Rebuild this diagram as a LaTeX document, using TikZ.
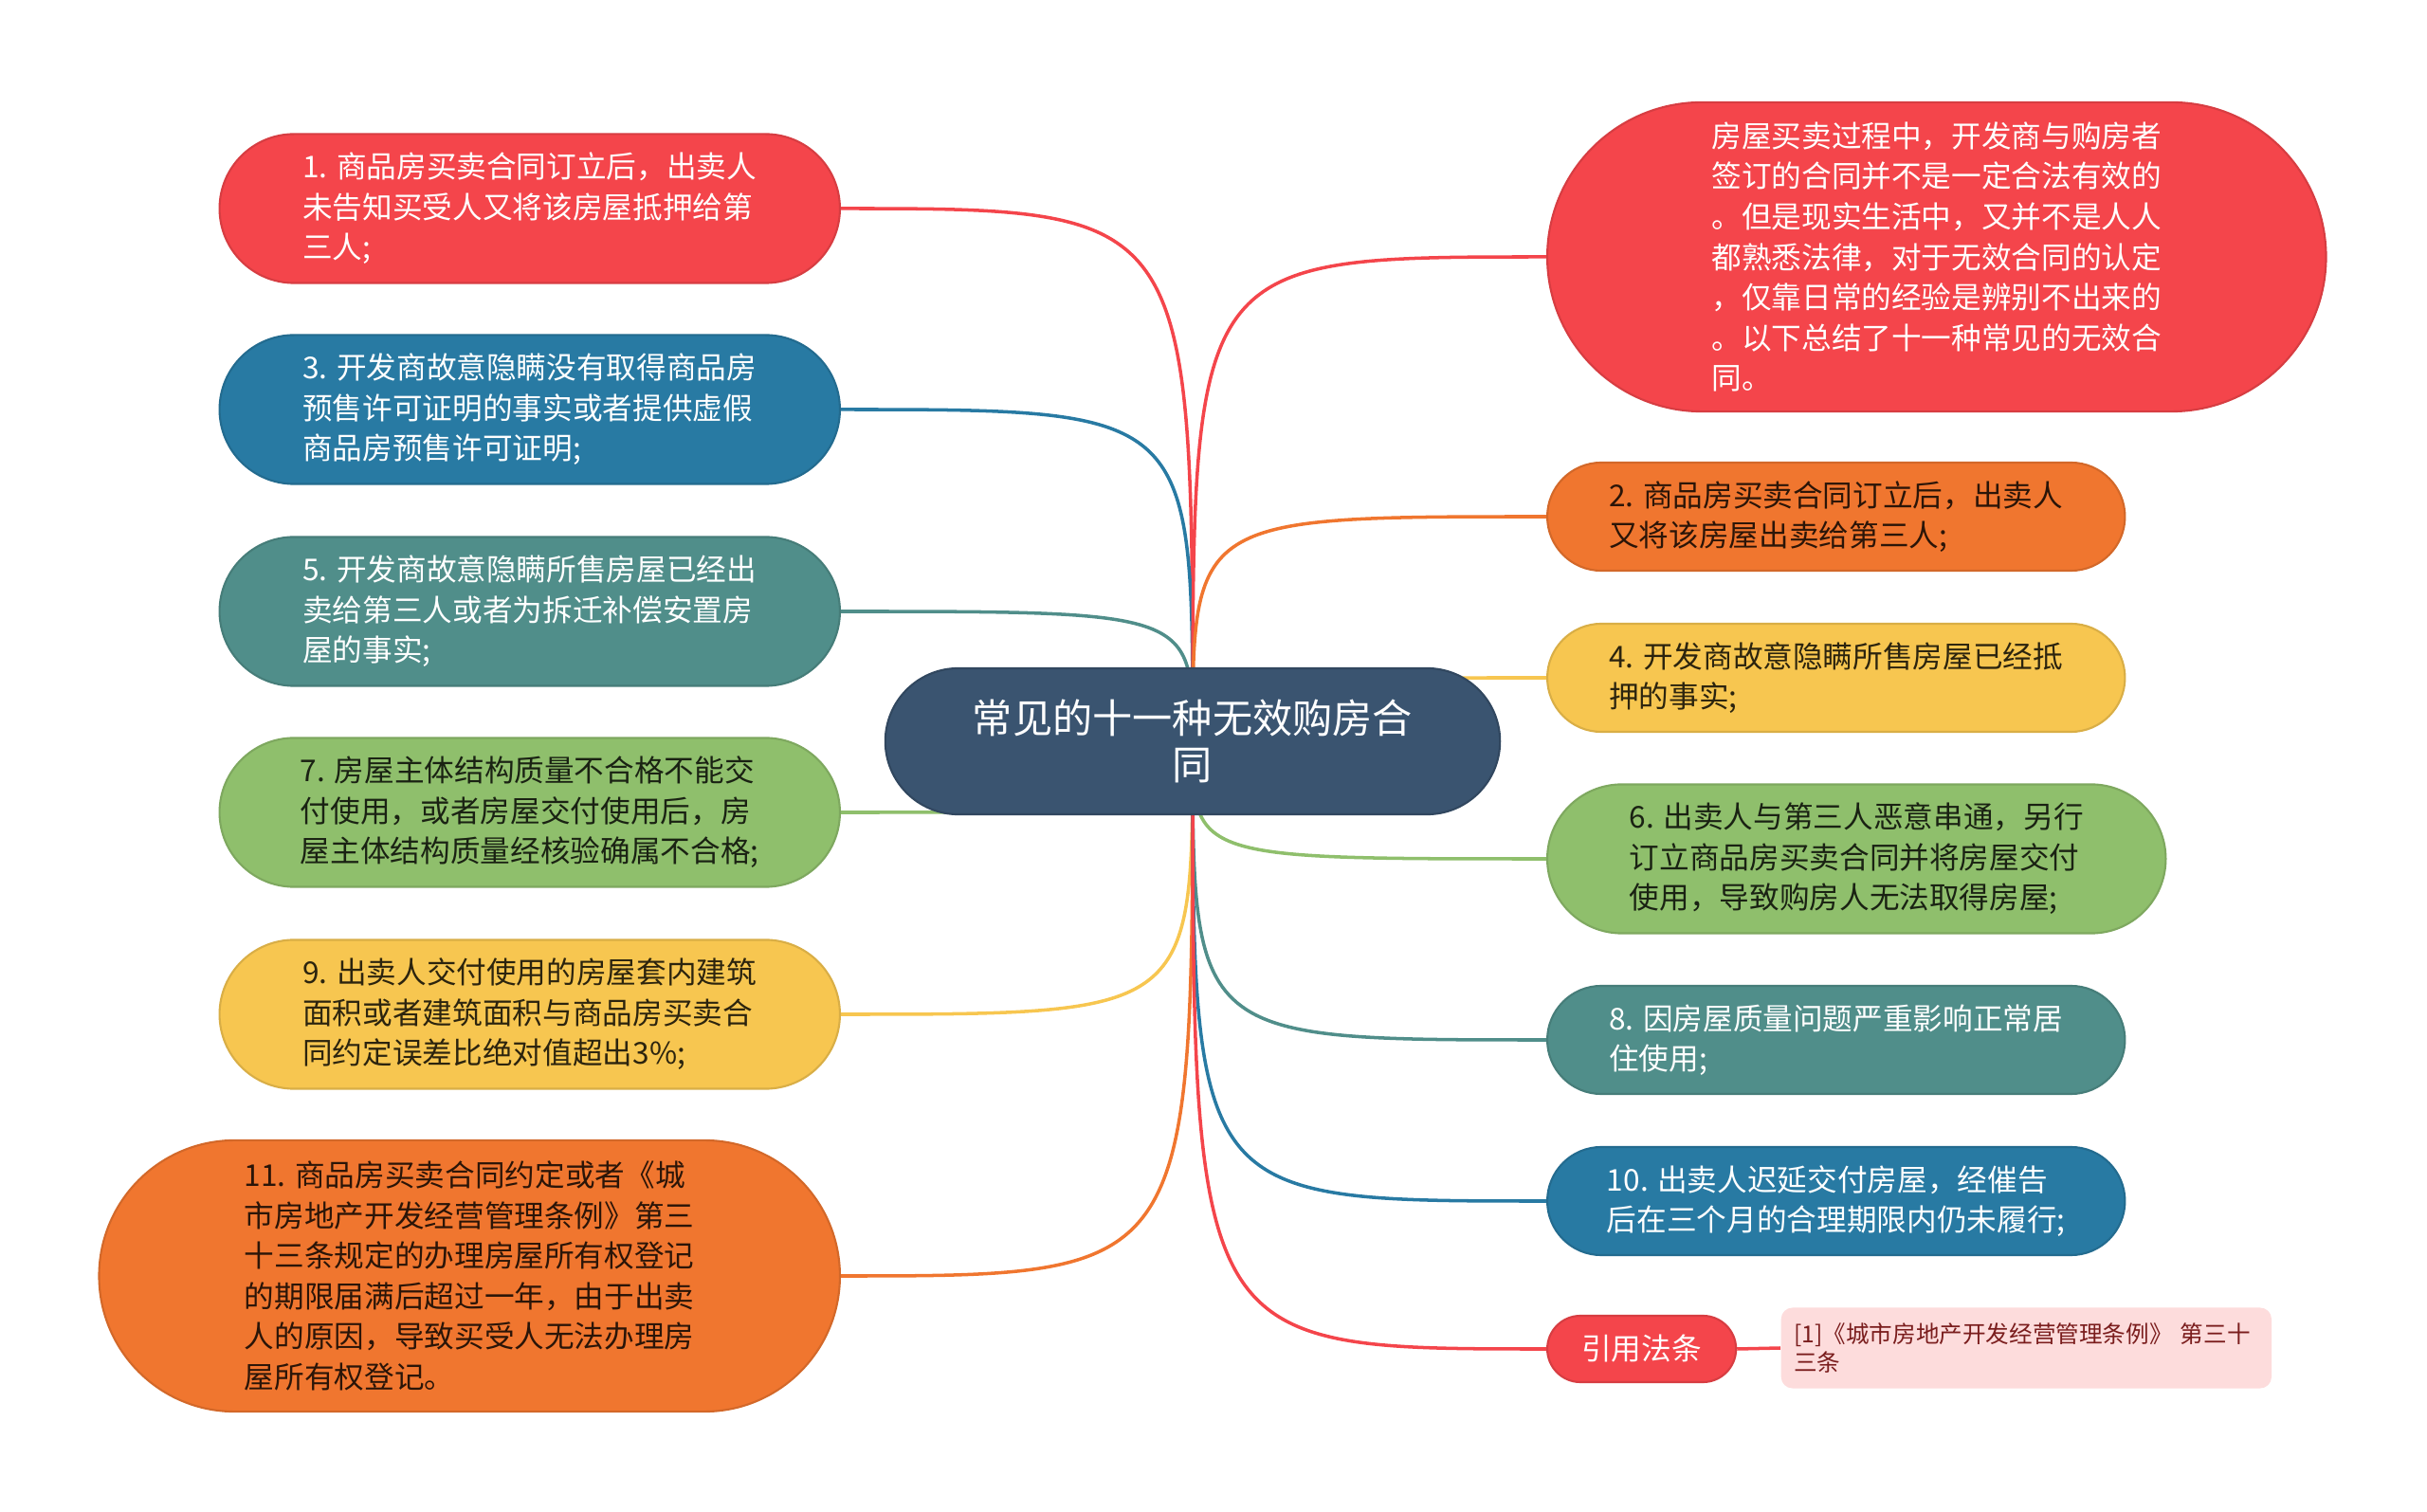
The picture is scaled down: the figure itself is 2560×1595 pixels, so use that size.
\documentclass[tikz,border=0pt]{standalone}
\usepackage{fontspec}
\setmainfont{Noto Sans CJK SC}
\usetikzlibrary{positioning,backgrounds,shapes.misc}
\definecolor{hubblue}{HTML}{3A5470}
\definecolor{mred}{HTML}{F4454B}
\definecolor{mblue}{HTML}{287AA3}
\definecolor{mteal}{HTML}{508E8A}
\definecolor{mgreen}{HTML}{8FBF6C}
\definecolor{myellow}{HTML}{F7C650}
\definecolor{morange}{HTML}{F0762F}
\definecolor{citebg}{HTML}{FDDCDC}
\definecolor{citeink}{HTML}{7A1D1D}

\begin{document}
\begin{tikzpicture}[x=0.01cm, y=-0.01cm,
    hub/.style={rounded rectangle, fill=hubblue, draw=hubblue!85!black, line width=0.6pt,
      inner sep=0pt, minimum width=6.48cm, minimum height=1.54cm, align=center,
      text=white, font=\fontsize{12}{14}\selectfont},
    leaf/.style={rounded rectangle, fill=#1, draw=#1!88!black, line width=0.6pt,
      inner sep=0pt, align=left, text=white, font=\fontsize{9}{12.1}\selectfont},
    darkleaf/.style={leaf=#1, text=#1!18!black},
    small/.style={minimum width=6.09cm, minimum height=1.14cm},
    mid/.style={minimum width=6.54cm, minimum height=1.57cm},
    citebox/.style={rectangle, rounded corners=1.2mm, fill=citebg, draw=none, anchor=west,
      minimum width=5.17cm, minimum height=0.85cm, inner xsep=1.3mm, text width=4.9cm,
      align=left, text=citeink, font=\fontsize{7}{8.8}\selectfont},
    link/.style={draw=#1, line width=1pt},
  ]
  \path[use as bounding box] (0,0) rectangle (2560,1595);

  % ------------------------------------------------------------------ centre
  \node[hub] (hub) at (1258,782) {常见的十一种无效购房合\\同};

  % --------------------------------------------------------------- left side
  \node[leaf=mred, mid, anchor=east] (n1) at (887,220)
    {1. 商品房买卖合同订立后，出卖人\\未告知买受人又将该房屋抵押给第\\三人;};
  \node[leaf=mblue, mid, anchor=east] (n3) at (887,432)
    {3. 开发商故意隐瞒没有取得商品房\\预售许可证明的事实或者提供虚假\\商品房预售许可证明;};
  \node[leaf=mteal, mid, anchor=east] (n5) at (887,645)
    {5. 开发商故意隐瞒所售房屋已经出\\卖给第三人或者为拆迁补偿安置房\\屋的事实;};
  \node[darkleaf=mgreen, mid, anchor=east] (n7) at (887,857)
    {7. 房屋主体结构质量不合格不能交\\付使用，或者房屋交付使用后，房\\屋主体结构质量经核验确属不合格;};
  \node[darkleaf=myellow, mid, anchor=east] (n9) at (887,1070)
    {9. 出卖人交付使用的房屋套内建筑\\面积或者建筑面积与商品房买卖合\\同约定误差比绝对值超出3\%;};
  \node[darkleaf=morange, minimum width=7.81cm, minimum height=2.86cm, anchor=east] (n11) at (887,1346)
    {11. 商品房买卖合同约定或者《城\\市房地产开发经营管理条例》第三\\十三条规定的办理房屋所有权登记\\的期限届满后超过一年，由于出卖\\人的原因，导致买受人无法办理房\\屋所有权登记。};

  % -------------------------------------------------------------- right side
  \node[leaf=mred, minimum width=8.21cm, minimum height=3.26cm, anchor=west] (intro) at (1631,271)
    {房屋买卖过程中，开发商与购房者\\签订的合同并不是一定合法有效的\\。但是现实生活中，又并不是人人\\都熟悉法律，对于无效合同的认定\\，仅靠日常的经验是辨别不出来的\\。以下总结了十一种常见的无效合\\同。};
  \node[darkleaf=morange, small, anchor=west] (n2) at (1631,545)
    {2. 商品房买卖合同订立后，出卖人\\又将该房屋出卖给第三人;};
  \node[darkleaf=myellow, small, anchor=west] (n4) at (1631,715)
    {4. 开发商故意隐瞒所售房屋已经抵\\押的事实;};
  \node[darkleaf=mgreen, minimum width=6.52cm, minimum height=1.57cm, anchor=west] (n6) at (1631,906)
    {6. 出卖人与第三人恶意串通，另行\\订立商品房买卖合同并将房屋交付\\使用，导致购房人无法取得房屋;};
  \node[leaf=mteal, small, anchor=west] (n8) at (1631,1097)
    {8. 因房屋质量问题严重影响正常居\\住使用;};
  \node[leaf=mblue, small, anchor=west] (n10) at (1631,1267)
    {10. 出卖人迟延交付房屋，经催告\\后在三个月的合理期限内仍未履行;};
  \node[leaf=mred, minimum width=1.99cm, minimum height=0.70cm, anchor=west,
        font=\fontsize{9}{11}\selectfont] (law) at (1631,1423) {引用法条};
  \node[citebox] (cite) at (1878,1422)
    {[1]《城市房地产开发经营管理条例》 第三十\\三条};

  % ------------------------------------------------------------------ links
  \begin{scope}[on background layer]
    \foreach \leafname/\col in {n1/mred, n3/mblue, n5/mteal, n7/mgreen, n9/myellow, n11/morange}
      \draw[link=\col] (hub.center) .. controls (hub.center |- \leafname.east) .. (\leafname.east);
    \foreach \leafname/\col in {intro/mred, n2/morange, n4/myellow, n6/mgreen, n8/mteal, n10/mblue, law/mred}
      \draw[link=\col] (hub.center) .. controls (hub.center |- \leafname.west) .. (\leafname.west);
    \draw[link=mred] (law.east) -- (cite.west);
  \end{scope}
\end{tikzpicture}
\end{document}
